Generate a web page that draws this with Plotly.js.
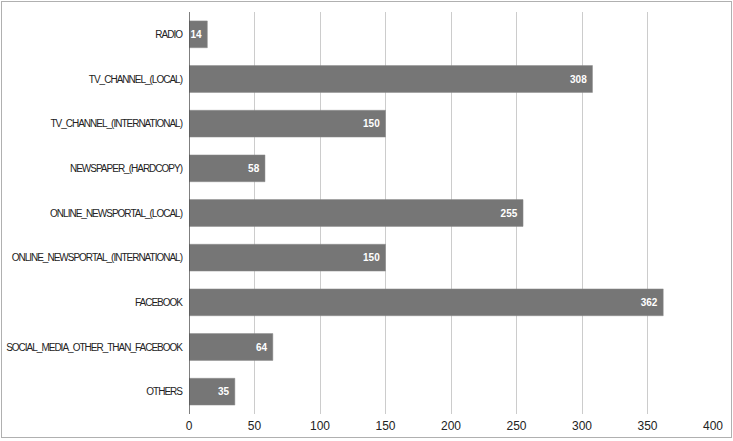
<!DOCTYPE html>
<html>
<head>
<meta charset="utf-8">
<script src="https://cdn.plot.ly/plotly-3.0.1.min.js"></script>
<style>
html,body{margin:0;padding:0;background:#fff;}
#wrap{position:relative;width:733px;height:441px;}
#chart{width:733px;height:441px;}
#frame{position:absolute;left:1px;top:1px;width:729px;height:435px;border:1px solid #b0b0b0;pointer-events:none;}
#chart .ytick text{letter-spacing:-1px;}
</style>
</head>
<body>
<div id="wrap"><div id="chart"></div><div id="frame"></div></div>
<script>
var categories = [
  "RADIO",
  "TV_CHANNEL_(LOCAL)",
  "TV_CHANNEL_(INTERNATIONAL)",
  "NEWSPAPER_(HARDCOPY)",
  "ONLINE_NEWSPORTAL_(LOCAL)",
  "ONLINE_NEWSPORTAL_(INTERNATIONAL)",
  "FACEBOOK",
  "SOCIAL_MEDIA_OTHER_THAN_FACEBOOK",
  "OTHERS"
];
var counts = [14, 308, 150, 58, 255, 150, 362, 64, 35];
var xTicks = [0, 50, 100, 150, 200, 250, 300, 350, 400];

var trace = {
  type: 'bar',
  orientation: 'h',
  y: categories,
  x: counts,
  text: counts.map(function (v) { return String(v) + '\u00a0'; }),
  textposition: 'inside',
  insidetextanchor: 'end',
  textangle: 0,
  constraintext: 'none',
  textfont: {family: 'Liberation Sans, Arial, sans-serif', size: 10, color: '#ffffff', weight: 'bold'},
  marker: {color: '#767676', line: {color: '#8c8c8c', width: 0.5}},
  width: 0.6,
  hoverinfo: 'none'
};

var layout = {
  width: 733,
  height: 441,
  margin: {l: 189, r: 20, t: 12, b: 27, pad: 0},
  paper_bgcolor: '#ffffff',
  plot_bgcolor: '#ffffff',
  showlegend: false,
  font: {family: 'Liberation Sans, Arial, sans-serif', color: '#333333'},
  xaxis: {
    range: [0, 400],
    tickvals: xTicks,
    ticktext: xTicks.map(String),
    showgrid: true,
    gridcolor: '#cccccc',
    gridwidth: 1,
    zeroline: false,
    showline: false,
    ticks: '',
    ticklabelstandoff: 3,
    tickfont: {size: 12, color: '#222222'},
    fixedrange: true
  },
  yaxis: {
    autorange: 'reversed',
    showgrid: false,
    zeroline: false,
    showline: false,
    ticks: '',
    ticklabelstandoff: 6,
    tickfont: {family: 'Liberation Sans, Arial, sans-serif', size: 10, color: '#222222'},
    fixedrange: true
  },
  shapes: [{
    type: 'line', xref: 'x', yref: 'paper',
    x0: 0, x1: 0, y0: 0, y1: 1,
    line: {color: '#555555', width: 1.5}
  }]
};

Plotly.newPlot('chart', [trace], layout, {displayModeBar: false, staticPlot: true});
</script>
</body>
</html>
